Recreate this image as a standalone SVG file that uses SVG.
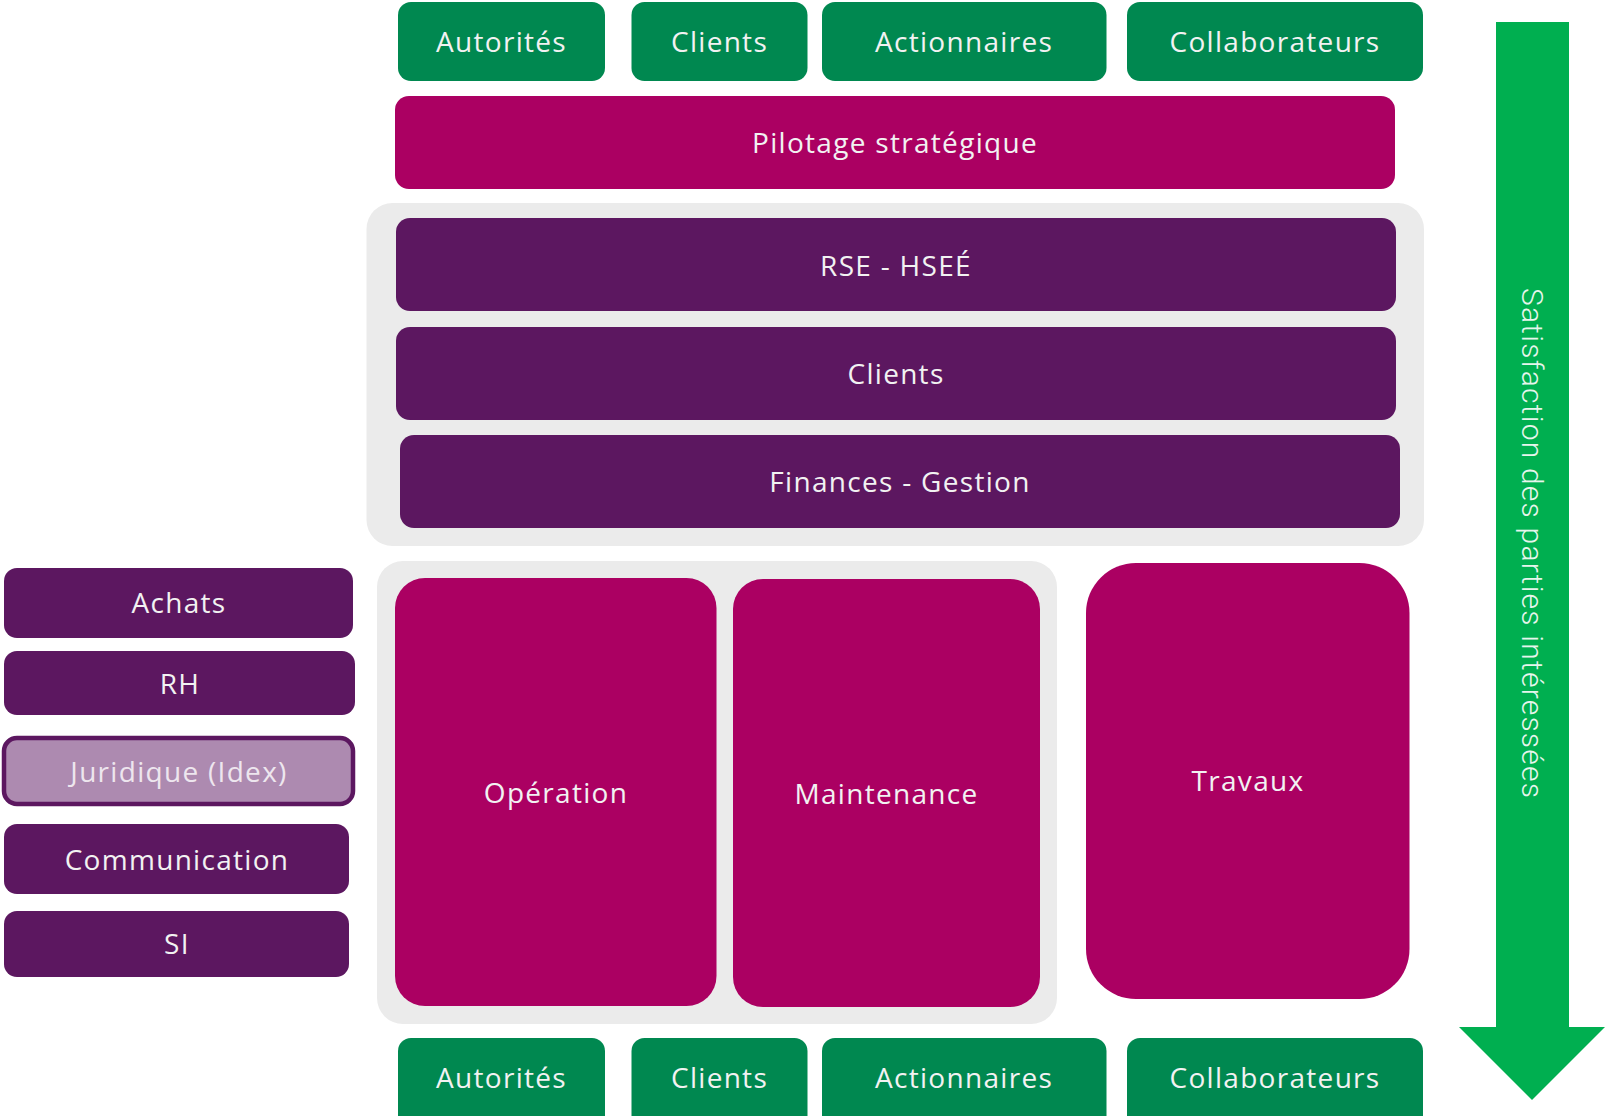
<svg xmlns="http://www.w3.org/2000/svg" width="1605" height="1116" viewBox="0 0 1605 1116">
<style>
.g{fill:#008850}
.m{fill:#AB0062}
.p{fill:#5C1760}
.bg{fill:#EBEBEB}
.t{font-family:"Open Sans","Liberation Sans",sans-serif;font-size:28px;letter-spacing:1.3px;fill:#F2F2F2;text-anchor:middle;dominant-baseline:central}
.a{font-family:Roboto,"Liberation Sans",sans-serif;font-weight:300;font-size:30px;fill:#E6F5EC;text-anchor:middle;dominant-baseline:central}
</style>
<rect width="1605" height="1116" fill="#FFFFFF"/>
<g id="containers">
<rect class="bg" x="366.5" y="203" width="1057.5" height="343" rx="26"/>
<rect class="bg" x="377" y="561" width="680" height="463" rx="26"/>
</g>
<g id="connectors">
<path id="arrow" d="M1496 22 H1569 V1027 H1605 L1532 1100 L1459 1027 H1496 Z" fill="#00AF50"/>
<text class="a" transform="translate(1532 543) rotate(90)" textLength="510" lengthAdjust="spacing">Satisfaction des parties intéressées</text>
</g>
<g id="top-autorites"><rect class="g" x="398" y="2" width="207" height="79" rx="13"/><text class="t" x="501.5" y="41">Autorités</text></g>
<g id="top-clients"><rect class="g" x="631.5" y="2" width="176" height="79" rx="13"/><text class="t" x="719.5" y="41">Clients</text></g>
<g id="top-actionnaires"><rect class="g" x="822" y="2" width="284.5" height="79" rx="13"/><text class="t" x="964" y="41">Actionnaires</text></g>
<g id="top-collaborateurs"><rect class="g" x="1127" y="2" width="296" height="79" rx="13"/><text class="t" x="1275" y="41">Collaborateurs</text></g>
<g id="pilotage"><rect class="m" x="395" y="96" width="1000" height="93" rx="14"/><text class="t" x="895" y="142">Pilotage stratégique</text></g>
<g id="rse"><rect class="p" x="396" y="218" width="1000" height="93" rx="14"/><text class="t" x="896" y="265">RSE - HSEÉ</text></g>
<g id="clients-mid"><rect class="p" x="396" y="327" width="1000" height="93" rx="14"/><text class="t" x="896" y="373">Clients</text></g>
<g id="finances"><rect class="p" x="400" y="435" width="1000" height="93" rx="14"/><text class="t" x="900" y="481">Finances - Gestion</text></g>
<g id="operation"><rect class="m" x="395" y="578" width="321.5" height="428" rx="30"/><text class="t" x="556" y="792">Opération</text></g>
<g id="maintenance"><rect class="m" x="733" y="579" width="307" height="428" rx="30"/><text class="t" x="886.5" y="793">Maintenance</text></g>
<g id="travaux"><rect class="m" x="1086" y="563" width="323.5" height="436" rx="50"/><text class="t" x="1248" y="780">Travaux</text></g>
<g id="achats"><rect class="p" x="4" y="568" width="349" height="70" rx="13"/><text class="t" x="179" y="602">Achats</text></g>
<g id="rh"><rect class="p" x="4" y="651" width="351" height="64" rx="13"/><text class="t" x="180" y="683">RH</text></g>
<g id="juridique"><rect x="4" y="738" width="349" height="66" rx="13" fill="#AD8AB0" stroke="#5C1760" stroke-width="4.5"/><text class="t" x="179" y="771" style="fill:#EDE6EE">Juridique (Idex)</text></g>
<g id="communication"><rect class="p" x="4" y="824" width="345" height="70" rx="13"/><text class="t" x="177" y="859">Communication</text></g>
<g id="si"><rect class="p" x="4" y="911" width="345" height="66" rx="13"/><text class="t" x="177" y="943">SI</text></g>
<g id="bottom-autorites"><rect class="g" x="398" y="1038" width="207" height="95" rx="13"/><text class="t" x="501.5" y="1077">Autorités</text></g>
<g id="bottom-clients"><rect class="g" x="631.5" y="1038" width="176" height="95" rx="13"/><text class="t" x="719.5" y="1077">Clients</text></g>
<g id="bottom-actionnaires"><rect class="g" x="822" y="1038" width="284.5" height="95" rx="13"/><text class="t" x="964" y="1077">Actionnaires</text></g>
<g id="bottom-collaborateurs"><rect class="g" x="1127" y="1038" width="296" height="95" rx="13"/><text class="t" x="1275" y="1077">Collaborateurs</text></g>
</svg>
